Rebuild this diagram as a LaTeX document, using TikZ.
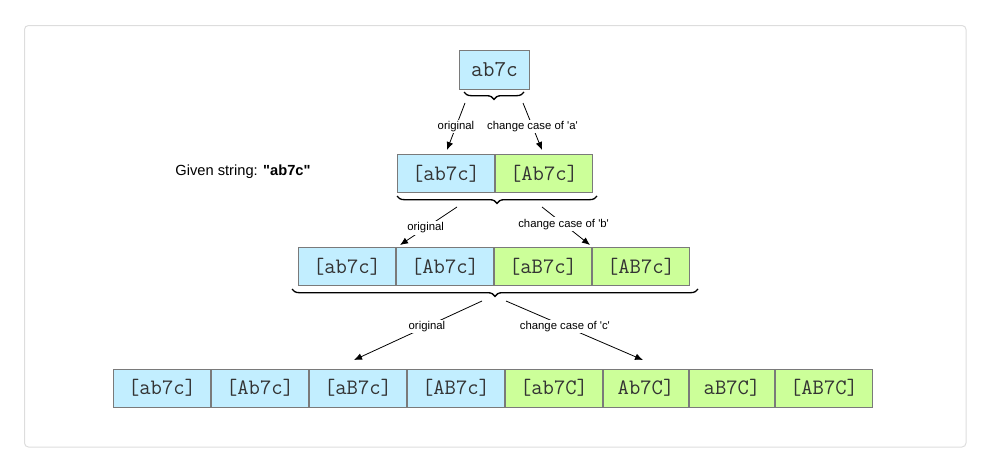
\documentclass[tikz,border=0pt]{standalone}
\usepackage{fontspec}
\setmainfont{Liberation Sans}
\usetikzlibrary{positioning,decorations.pathreplacing,arrows.meta}

\definecolor{boxblue}{HTML}{C2EEFF}
\definecolor{boxgreen}{HTML}{CCFF99}
\definecolor{boxline}{HTML}{7A7A7A}
\definecolor{framegray}{HTML}{DDDDDD}

\begin{document}
\begin{tikzpicture}[x=0.75pt, y=-0.75pt, node distance=0pt,
    cell/.style = {draw=boxline, line width=0.75pt, inner sep=0pt, minimum width=72.75pt, minimum height=28.5pt, font=\fontsize{16.5}{19}\ttfamily, text=black!80},
    orig/.style = {cell, fill=boxblue},
    flip/.style = {cell, fill=boxgreen},
    narrow/.style = {minimum width=63.75pt},
    lbl/.style = {fill=white, inner sep=1pt, font=\fontsize{8.5}{10}\selectfont},
    grp/.style = {decorate, decoration={brace, mirror, amplitude=5.5pt}, line width=1pt},
    arr/.style = {-{Latex[length=6pt,width=5pt]}, line width=0.6pt}]
        \useasboundingbox (0,0) rectangle (999,464);
        \draw[framegray, line width=0.75pt, rounded corners=3pt] (24.5,25.5) rectangle (966,447);

        % start string
        \node[orig, minimum width=52.5pt, minimum height=29.25pt, font=\fontsize{17}{20}\ttfamily] (top) at (494.5,70) {ab7c};
        \node[font=\fontsize{11}{13}\selectfont] (given) at (243,172) {Given string: \textbf{\textquotedbl ab7c\textquotedbl}};

        % after 'a'
        \node[orig] (b1) at (446,173.5) {[ab7c]};
        \node[flip] (b2) [right=of b1] {[Ab7c]};

        % after 'b'
        \node[orig] (c1) at (347,266.5) {[ab7c]};
        \node[orig] (c2) [right=of c1] {[Ab7c]};
        \node[flip] (c3) [right=of c2] {[aB7c]};
        \node[flip] (c4) [right=of c3] {[AB7c]};

        % after 'c'
        \node[orig] (d1) at (162,388) {[ab7c]};
        \node[orig] (d2) [right=of d1] {[Ab7c]};
        \node[orig] (d3) [right=of d2] {[aB7c]};
        \node[orig] (d4) [right=of d3] {[AB7c]};
        \node[flip] (d5) [right=of d4] {[ab7C]};
        \node[flip, narrow] (d6) [right=of d5] {Ab7C]};
        \node[flip, narrow] (d7) [right=of d6] {aB7C]};
        \node[flip] (d8) [right=of d7] {[AB7C]};

        % braces
        \coordinate (g1l) at (464,92);
        \coordinate (g1r) at (524,92);
        \coordinate (g2l) at (397,196);
        \coordinate (g2r) at (597,196);
        \coordinate (g3l) at (292,289);
        \coordinate (g3r) at (698,289);
        \draw[grp] (g1l) -- (g1r);
        \draw[grp] (g2l) -- (g2r);
        \draw[grp] (g3l) -- (g3r);

        % arrow ends
        \coordinate (s1a) at (465,103);
        \coordinate (e1a) at (447,150);
        \coordinate (s1b) at (523,103);
        \coordinate (e1b) at (542,150);
        \coordinate (s2a) at (457,207);
        \coordinate (e2a) at (400,245);
        \coordinate (s2b) at (542,207);
        \coordinate (e2b) at (590,245);
        \coordinate (s3a) at (482,301);
        \coordinate (e3a) at (354,360);
        \coordinate (s3b) at (506,301);
        \coordinate (e3b) at (643,360);

        \draw[arr] (s1a) -- node[lbl] {original} (e1a);
        \draw[arr] (s1b) -- node[lbl] {change case of \textquotesingle a\textquotesingle} (e1b);
        \draw[arr] (s2a) -- node[lbl, pos=0.55] {original} (e2a);
        \draw[arr] (s2b) -- node[lbl, pos=0.45] {change case of \textquotesingle b\textquotesingle} (e2b);
        \draw[arr] (s3a) -- node[lbl, pos=0.43] {original} (e3a);
        \draw[arr] (s3b) -- node[lbl, pos=0.43] {change case of \textquotesingle c\textquotesingle} (e3b);
    \end{tikzpicture}
\end{document}
